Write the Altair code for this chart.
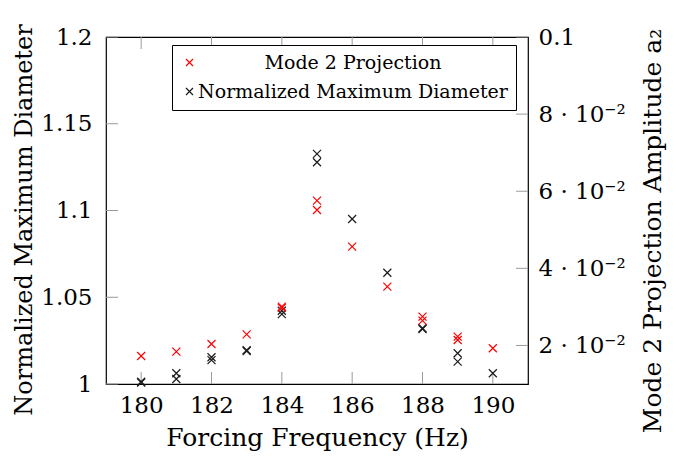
import altair as alt
import pandas as pd

# Normalized maximum diameter (left axis)
dia_freq = [180, 180, 181, 181, 182, 182, 183, 183, 184, 184, 185, 185, 186, 187, 188, 188, 189, 189, 190]
dia_vals = [1.0013, 1.0008, 1.0062, 1.0029, 1.0154, 1.0138, 1.0190, 1.0195, 1.0422, 1.0403,
            1.1326, 1.1278, 1.0951, 1.0641, 1.0317, 1.0322, 1.0177, 1.0129, 1.0062]

# Mode 2 projection amplitude a2 (right axis)
a2_freq = [180, 181, 182, 183, 184, 184, 185, 185, 186, 187, 188, 188, 189, 189, 190]
a2_vals = [0.01726, 0.01838, 0.02038, 0.02289, 0.03005, 0.02975, 0.05755, 0.05513,
           0.04562, 0.03524, 0.02746, 0.02642, 0.02227, 0.02141, 0.01926]

series_names = ["Mode 2 Projection", "Normalized Maximum Diameter"]
series_colors = ["#ff0000", "#1a1a1a"]

x_ticks = [180, 182, 184, 186, 188, 190]
left_ticks = [1.0, 1.05, 1.1, 1.15, 1.2]
right_ticks = [0.02, 0.04, 0.06, 0.08, 0.1]

W, H = 422, 347
FONT = "DejaVu Serif"
XPATH = "M-1,-1L1,1M1,-1L-1,1"

df_dia = pd.DataFrame({"f": dia_freq, "v": dia_vals, "series": series_names[1]})
df_a2 = pd.DataFrame({"f": a2_freq, "v": a2_vals, "series": series_names[0]})
df_xt = pd.DataFrame({"f": x_ticks})
df_lt = pd.DataFrame({"v": left_ticks})
df_rt = pd.DataFrame({"v": right_ticks})

xscale = alt.Scale(domain=[179, 191], nice=False, zero=False)
lscale = alt.Scale(domain=[1.0, 1.2], nice=False, zero=False)
rscale = alt.Scale(domain=[0.01, 0.1], nice=False, zero=False)

color = alt.Color(
    "series:N",
    scale=alt.Scale(domain=series_names, range=series_colors),
    title=None,
    legend=alt.Legend(
        orient="none", legendX=66, legendY=8,
        fillColor="white", strokeColor="black", padding=8,
        labelFont=FONT, labelFontSize=19, labelColor="black", labelLimit=500,
        symbolType=XPATH, symbolSize=49, symbolStrokeWidth=1.2,
        symbolFillColor="transparent",
        labelAlign="center", labelOffset=154, rowPadding=9,
    ),
)

xaxis = alt.Axis(values=x_ticks, ticks=False, domain=False, grid=False,
                 labelPadding=10, titlePadding=8, title="Forcing Frequency (Hz)",
                 format="d")

pts_dia = alt.Chart(df_dia).mark_point(shape=XPATH, filled=False, size=64, strokeWidth=1.2, opacity=1).encode(
    x=alt.X("f:Q", scale=xscale, axis=xaxis),
    y=alt.Y("v:Q", scale=lscale, axis=alt.Axis(
        orient="left", values=left_ticks, ticks=False, domain=False, grid=False,
        labelPadding=14, titlePadding=4, title="Normalized Maximum Diameter",
        titleFontSize=24, titleY=H / 2 + 9,
        labelExpr="datum.value == 1 ? '1' : format(datum.value, '.3~f')")),
    color=color,
)

pts_a2 = alt.Chart(df_a2).mark_point(shape=XPATH, filled=False, size=64, strokeWidth=1.2, opacity=1).encode(
    x=alt.X("f:Q", scale=xscale),
    y=alt.Y("v:Q", scale=rscale, axis=alt.Axis(
        orient="right", values=right_ticks, ticks=False, domain=False, grid=False,
        labelPadding=10, titlePadding=15, title="Mode 2 Projection Amplitude a₂",
        titleAngle=270, titleBaseline="top", titleY=H / 2 + 20,
        labelExpr="datum.value >= 0.099 ? '0.1' : format(datum.value * 100, '.0f') + ' · 10⁻²'")),
    color=color,
)

tick_col = "#9a9a9a"
xt_bottom = alt.Chart(df_xt).mark_rule(color=tick_col, strokeWidth=1).encode(
    x=alt.X("f:Q", scale=xscale), y=alt.value(H), y2=alt.value(H - 12))
xt_top = alt.Chart(df_xt).mark_rule(color=tick_col, strokeWidth=1).encode(
    x=alt.X("f:Q", scale=xscale), y=alt.value(0), y2=alt.value(12))
lt = alt.Chart(df_lt).mark_rule(color=tick_col, strokeWidth=1).encode(
    y=alt.Y("v:Q", scale=lscale), x=alt.value(0), x2=alt.value(12))
rt = alt.Chart(df_rt).mark_rule(color=tick_col, strokeWidth=1).encode(
    y=alt.Y("v:Q", scale=rscale), x=alt.value(W), x2=alt.value(W - 12))

left_group = alt.layer(xt_bottom, xt_top, lt, pts_dia)
right_group = alt.layer(rt, pts_a2)

chart = alt.layer(left_group, right_group).resolve_scale(y="independent").properties(
    width=W, height=H,
    autosize=alt.AutoSizeParams(type="none"),
    padding={"left": 98, "top": 29, "right": 145, "bottom": 70},
).configure_view(
    stroke="black", strokeWidth=1.2
).configure_axis(
    labelFont=FONT, labelFontSize=23, labelColor="black",
    titleFont=FONT, titleFontSize=25, titleColor="black", titleFontWeight="normal",
)

chart.save("out.html", embed_options={"renderer": "svg", "actions": False})
